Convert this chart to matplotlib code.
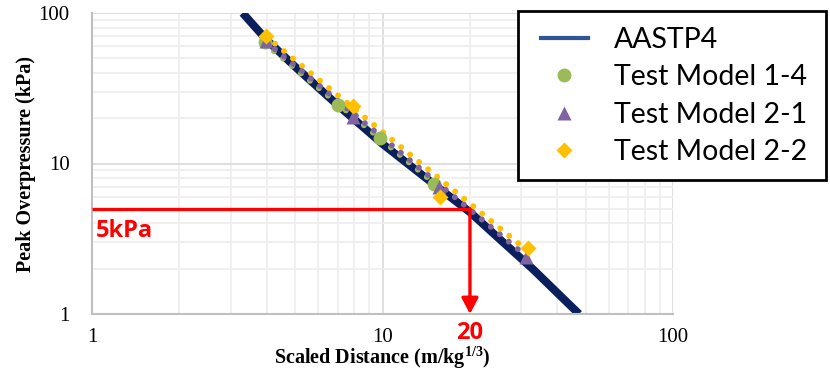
#!/usr/bin/env python
"""
Peak overpressure vs scaled distance, AASTP-4 curve with three test models.
Log-log, values read off the reference picture.
"""
import numpy as np
import matplotlib
matplotlib.use('Agg')
import matplotlib.pyplot as plt
from matplotlib.lines import Line2D
from matplotlib.patches import Rectangle

## AASTP4 reference curve (m/kg^1/3, kPa)
aastp_x = [3.3, 4.0, 5.0, 7.0, 10.0, 15.0, 20.0, 26.0, 33.0, 40.0, 47.5]
aastp_y = [100, 66, 44, 24.5, 13.5, 7.3, 4.75, 3.0, 1.98, 1.38, 1.0]

## test points
tm14_x = [3.94, 7.05, 9.8, 15.1]
tm14_y = [64, 24.5, 14.7, 7.3]
tm21_x = [3.97, 7.89, 15.7, 31.3]
tm21_y = [65, 20.5, 7.0, 2.40]
tm22_x = [3.97, 7.93, 15.8, 31.8]
tm22_y = [70.6, 24.1, 5.96, 2.73]

## dotted trend lines (end points)
tr14_x = [3.94, 15.1]
tr14_y = [62.5, 7.38]
tr21_x = [3.97, 31.3]
tr21_y = [64.5, 2.42]
tr22_x = [3.97, 31.8]
tr22_y = [70.0, 2.60]

## 5 kPa threshold
thresh_kpa = 5
thresh_dist = 20

navy = '#0B1F5C'
green = '#9BBB59'
purple = '#8064A2'
gold = '#FFC000'
red = '#FF0000'

plt.rcParams['mathtext.fontset'] = 'custom'
plt.rcParams['mathtext.bf'] = 'Liberation Serif:bold'
plt.rcParams['mathtext.rm'] = 'Liberation Serif'


def main():
	fig = plt.figure(figsize=(8.3, 3.71), dpi=100)
	ax = fig.add_axes([92 / 830, 57 / 371, 581 / 830, 301 / 371])
	ax.set_xscale('log')
	ax.set_yscale('log')
	ax.set_xlim(1, 100)
	ax.set_ylim(1, 100)

	ax.grid(which='major', color='#D9D9D9', lw=1.2)
	ax.grid(which='minor', color='#EEEEEE', lw=1.2)
	ax.set_axisbelow(True)
	for s in ['top', 'right']:
		ax.spines[s].set_visible(False)
	for s in ['left', 'bottom']:
		ax.spines[s].set_color('#BFBFBF')
		ax.spines[s].set_linewidth(1.5)

	ax.plot(aastp_x, aastp_y, color=navy, lw=5.8, solid_capstyle='butt',
		solid_joinstyle='round', zorder=2)

	dots = dict(lw=4.3, dash_capstyle='round', zorder=3)
	ax.plot(tr22_x, tr22_y, color=gold, ls=(0, (0.001, 1.95)), **dots)
	ax.plot(tr14_x, tr14_y, color=green, ls=(0, (0.001, 1.95)), **dots)
	ax.plot(tr21_x, tr21_y, color=purple, ls=(0, (0.001, 1.95)), **dots)

	ax.plot(tm14_x, tm14_y, 'o', color=green, ms=10, mec='none', zorder=4)
	ax.plot(tm21_x, tm21_y, '^', color=purple, ms=10.5, mec='none', zorder=5)
	ax.plot(tm22_x, tm22_y, 'D', color=gold, ms=8.5, mec='none', zorder=6)

	## red guide: 5 kPa across, then down at 20
	ax.plot([1, thresh_dist], [thresh_kpa, thresh_kpa], color=red, lw=2.4,
		solid_capstyle='butt', zorder=7)
	ax.annotate('', xy=(thresh_dist, 1), xytext=(thresh_dist, thresh_kpa),
		arrowprops=dict(arrowstyle='-|>,head_length=0.95,head_width=0.5',
			color=red, lw=2.4, shrinkA=0, shrinkB=0), zorder=7)
	ax.text(1.03, 4.25, f'{thresh_kpa}kPa', color=red, fontsize=17, fontweight='bold',
		family='Open Sans', ha='left', va='top')
	ax.text(thresh_dist, 0.75, f'{thresh_dist}', color=red, fontsize=17,
		fontweight='bold', family='Open Sans', ha='center', va='center', clip_on=False)

	ax.set_xticks([1, 10, 100])
	ax.set_xticklabels(['1', '10', '100'])
	ax.set_yticks([1, 10, 100])
	ax.set_yticklabels(['1', '10', '100'])
	ax.tick_params(which='both', length=0, labelsize=15)
	ax.tick_params(axis='x', pad=10)
	ax.tick_params(axis='y', pad=16)
	for lab in ax.get_xticklabels() + ax.get_yticklabels():
		lab.set_family('Liberation Serif')

	ax.set_xlabel('Scaled Distance (m/kg$^{\\mathbf{1/3}}$)', family='Liberation Serif',
		fontweight='bold', fontsize=14.5, labelpad=-2)
	ax.set_ylabel('Peak Overpressure (kPa)', family='Liberation Serif',
		fontweight='bold', fontsize=14.5, labelpad=2)

	## legend: box drawn by hand so handles can sit inset like the original
	fig.patches.append(Rectangle((518 / 830, 1 - 180 / 371), 308 / 830, 169 / 371,
		transform=fig.transFigure, facecolor='white', edgecolor='black', lw=2,
		zorder=10))
	handles = [
		Line2D([], [], color='#2F5597', lw=3),
		Line2D([], [], ls='none', marker='o', color=green, ms=10, mec='none'),
		Line2D([], [], ls='none', marker='^', color=purple, ms=10, mec='none'),
		Line2D([], [], ls='none', marker='D', color=gold, ms=8.5, mec='none'),
	]
	names = ['AASTP4', 'Test Model 1-4', 'Test Model 2-1', 'Test Model 2-2']
	leg = fig.legend(handles, names, loc='upper left',
		bbox_to_anchor=(541 / 830, 1 - 27 / 371), prop={'family': 'Lato', 'size': 20.5},
		frameon=False, borderpad=0, labelspacing=0.4, handlelength=1.65,
		handletextpad=0.9, borderaxespad=0)
	leg.set_zorder(11)

	fig.savefig('out.png', dpi=100)


if __name__ == "__main__":
	main()
